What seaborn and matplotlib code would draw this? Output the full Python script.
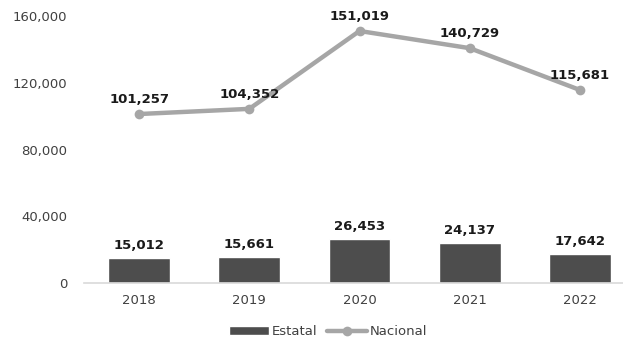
import pandas as pd
import matplotlib
matplotlib.use("Agg")
import matplotlib.pyplot as plt
import seaborn as sns

years = ["2018", "2019", "2020", "2021", "2022"]
estatal = [15012, 15661, 26453, 24137, 17642]
nacional = [101257, 104352, 151019, 140729, 115681]

df = pd.DataFrame({"year": years, "Estatal": estatal, "Nacional": nacional})
df["pos"] = range(len(years))

sns.set_style("white")
plt.rcParams["font.family"] = ["DejaVu Sans"]

fig = plt.figure(figsize=(6.23, 3.44), dpi=100)
ax = fig.add_axes([84 / 623, 61 / 344, 551 / 623, 267 / 344])

sns.barplot(data=df, x="year", y="Estatal", color="#4d4d4d", saturation=1,
            width=0.56, ax=ax, label="Estatal")
sns.lineplot(data=df, x="pos", y="Nacional", color="#a6a6a6", linewidth=3.2,
             marker="o", markersize=7, markeredgewidth=0, ax=ax, label="Nacional")

for i, v in enumerate(estatal):
    ax.annotate(f"{v:,}", (i, v), xytext=(0, 4), textcoords="offset points",
                ha="center", va="bottom", fontsize=9.5, fontweight="bold", color="#1a1a1a")
for i, v in enumerate(nacional):
    ax.annotate(f"{v:,}", (i, v), xytext=(0, 6), textcoords="offset points",
                ha="center", va="bottom", fontsize=9.5, fontweight="bold", color="#1a1a1a")

ax.set_xlim(-0.5, 4.5)
ax.set_ylim(0, 160000)
ax.set_yticks([0, 40000, 80000, 120000, 160000])
ax.set_yticklabels([f"{t:,}" for t in [0, 40000, 80000, 120000, 160000]])
ax.set_xlabel("")
ax.set_ylabel("")
ax.tick_params(axis="both", labelsize=9.5, colors="#404040", length=0)
ax.tick_params(axis="y", pad=12)
ax.tick_params(axis="x", pad=8)
for s in ["left", "right", "top"]:
    ax.spines[s].set_visible(False)
ax.spines["bottom"].set_color("#d9d9d9")
ax.spines["bottom"].set_linewidth(1.2)

handles, labels = ax.get_legend_handles_labels()
order = [labels.index("Estatal"), labels.index("Nacional")]
ax.legend([handles[k] for k in order], [labels[k] for k in order],
          loc="center", bbox_to_anchor=(0.443, -0.183), ncol=2, frameon=False,
          fontsize=9.5, handlelength=3, columnspacing=0.8, handletextpad=0.2,
          labelcolor="#404040")

fig.savefig("out.png", dpi=100)
